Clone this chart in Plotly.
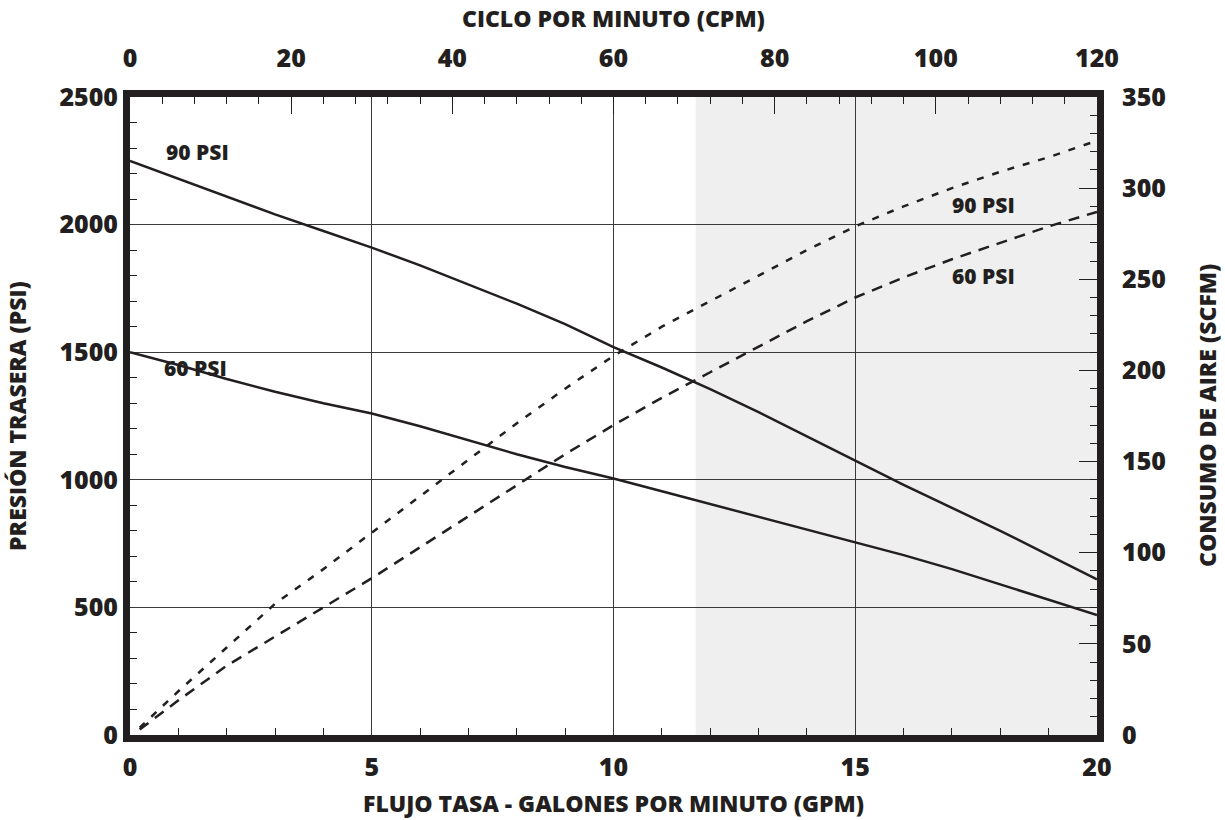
import plotly.graph_objects as go

# ---- data ----
gpm = [0, 1, 2, 3, 4, 5, 6, 7, 8, 9, 10, 11, 12, 13, 14, 15, 16, 17, 18, 19, 20]
back_psi_90 = [2250, 2180, 2110, 2040, 1975, 1910, 1840, 1765, 1690, 1610, 1520,
               1440, 1355, 1265, 1170, 1075, 980, 890, 800, 705, 610]
back_psi_60 = [1500, 1450, 1395, 1345, 1300, 1260, 1210, 1155, 1100, 1050, 1005,
               955, 905, 855, 805, 755, 705, 650, 590, 530, 470]

gpm_air = [0.2, 1, 2, 3, 4, 5, 6, 7, 8, 9, 10, 11, 12, 13, 14, 15, 16, 17, 18, 19, 20]
air_scfm_90 = [4, 24, 48, 72, 91, 111, 131, 151, 171, 190, 208, 224, 238, 252,
               266, 279, 290, 300, 309, 317, 326]
air_scfm_60 = [3, 19, 38, 54, 70, 86, 103, 120, 137, 154, 170, 185, 199, 213,
               227, 240, 251, 261, 270, 279, 287]

shade_start_gpm = 11.7
shade_end_gpm = 20

FONT = "Open Sans"
INK = "#231f20"
W = 800

fig = go.Figure()

fig.add_trace(go.Scatter(x=gpm, y=back_psi_90, mode="lines",
                         line=dict(color=INK, width=2.5), xaxis="x", yaxis="y",
                         showlegend=False))
fig.add_trace(go.Scatter(x=gpm, y=back_psi_60, mode="lines",
                         line=dict(color=INK, width=2.5), xaxis="x", yaxis="y",
                         showlegend=False))
fig.add_trace(go.Scatter(x=gpm_air, y=air_scfm_90, mode="lines",
                         line=dict(color=INK, width=2.5, dash="7px,9px"),
                         xaxis="x", yaxis="y2", showlegend=False))
fig.add_trace(go.Scatter(x=gpm_air, y=air_scfm_60, mode="lines",
                         line=dict(color=INK, width=2.5, dash="11px,8px"),
                         xaxis="x", yaxis="y2", showlegend=False))
# empty trace so the top axis is drawn
fig.add_trace(go.Scatter(x=[None], y=[None], xaxis="x2", yaxis="y", showlegend=False,
                         hoverinfo="skip"))

fig.add_shape(type="rect", xref="x", yref="paper",
              x0=shade_start_gpm, x1=shade_end_gpm, y0=0, y1=1,
              fillcolor="#efefef", line=dict(width=0), layer="below")

tickfont = dict(family=FONT, size=25, color=INK, weight=W)
titlefont = dict(family=FONT, size=23, color=INK, weight=W)
GRID = "#3a3a3a"
MINOR = dict(ticks="inside", ticklen=7, tickcolor=INK, tickwidth=1.3, showgrid=False)

fig.update_layout(
    width=1225, height=820,
    margin=dict(l=130, r=128, t=97, b=85),
    paper_bgcolor="white", plot_bgcolor="white",
    xaxis=dict(range=[0, 20], dtick=5, tick0=0,
               showgrid=True, gridcolor=GRID, gridwidth=1.3,
               showline=True, linecolor=INK, linewidth=7, mirror=True,
               ticks="inside", ticklen=0, tickcolor=INK,
               minor=dict(dtick=1, **MINOR),
               tickfont=tickfont, zeroline=False, ticklabelstandoff=4),
    yaxis=dict(range=[0, 2500], dtick=500, tick0=0,
               showgrid=True, gridcolor=GRID, gridwidth=1.3,
               showline=True, linecolor=INK, linewidth=7, mirror=True,
               ticks="inside", ticklen=0, tickcolor=INK,
               minor=dict(dtick=100, **MINOR),
               tickfont=tickfont, zeroline=False),
    xaxis2=dict(range=[0, 120], dtick=20, tick0=0, overlaying="x", side="top",
                showgrid=False, showline=False, zeroline=False,
                ticks="inside", ticklen=17, tickwidth=1.3, tickcolor=INK,
                minor=dict(dtick=4, **MINOR),
                tickfont=tickfont, ticklabelstandoff=24),
    yaxis2=dict(range=[0, 350], dtick=50, tick0=0, overlaying="y", side="right",
                showgrid=False, showline=False, zeroline=False,
                ticks="inside", ticklen=18, tickwidth=1.3, tickcolor=INK,
                minor=dict(dtick=10, **MINOR),
                tickfont=tickfont, ticklabelstandoff=24),
)

# axis titles
fig.add_annotation(x=0.5, y=-0.1066, xref="paper", yref="paper", showarrow=False,
                   text="FLUJO TASA - GALONES POR MINUTO (GPM)", font=titlefont,
                   xanchor="center", yanchor="middle")
fig.add_annotation(x=0.5, y=1.1238, xref="paper", yref="paper", showarrow=False,
                   text="CICLO POR MINUTO (CPM)", font=titlefont,
                   xanchor="center", yanchor="middle")
fig.add_annotation(x=-0.1169, y=0.5, xref="paper", yref="paper", showarrow=False,
                   text="PRESIÓN TRASERA (PSI)", font=titlefont, textangle=-90,
                   xanchor="center", yanchor="middle")
fig.add_annotation(x=1.1138, y=0.5, xref="paper", yref="paper", showarrow=False,
                   text="CONSUMO DE AIRE (SCFM)", font=titlefont, textangle=-90,
                   xanchor="center", yanchor="middle")

lab = dict(family=FONT, size=21, color=INK, weight=W)
fig.add_annotation(x=1.4, y=2285, xref="x", yref="y", text="90 PSI", showarrow=False, font=lab)
fig.add_annotation(x=1.35, y=1440, xref="x", yref="y", text="60 PSI", showarrow=False, font=lab)
fig.add_annotation(x=17.65, y=291, xref="x", yref="y2", text="90 PSI", showarrow=False, font=lab)
fig.add_annotation(x=17.65, y=252, xref="x", yref="y2", text="60 PSI", showarrow=False, font=lab)

fig.write_html("out.html")
